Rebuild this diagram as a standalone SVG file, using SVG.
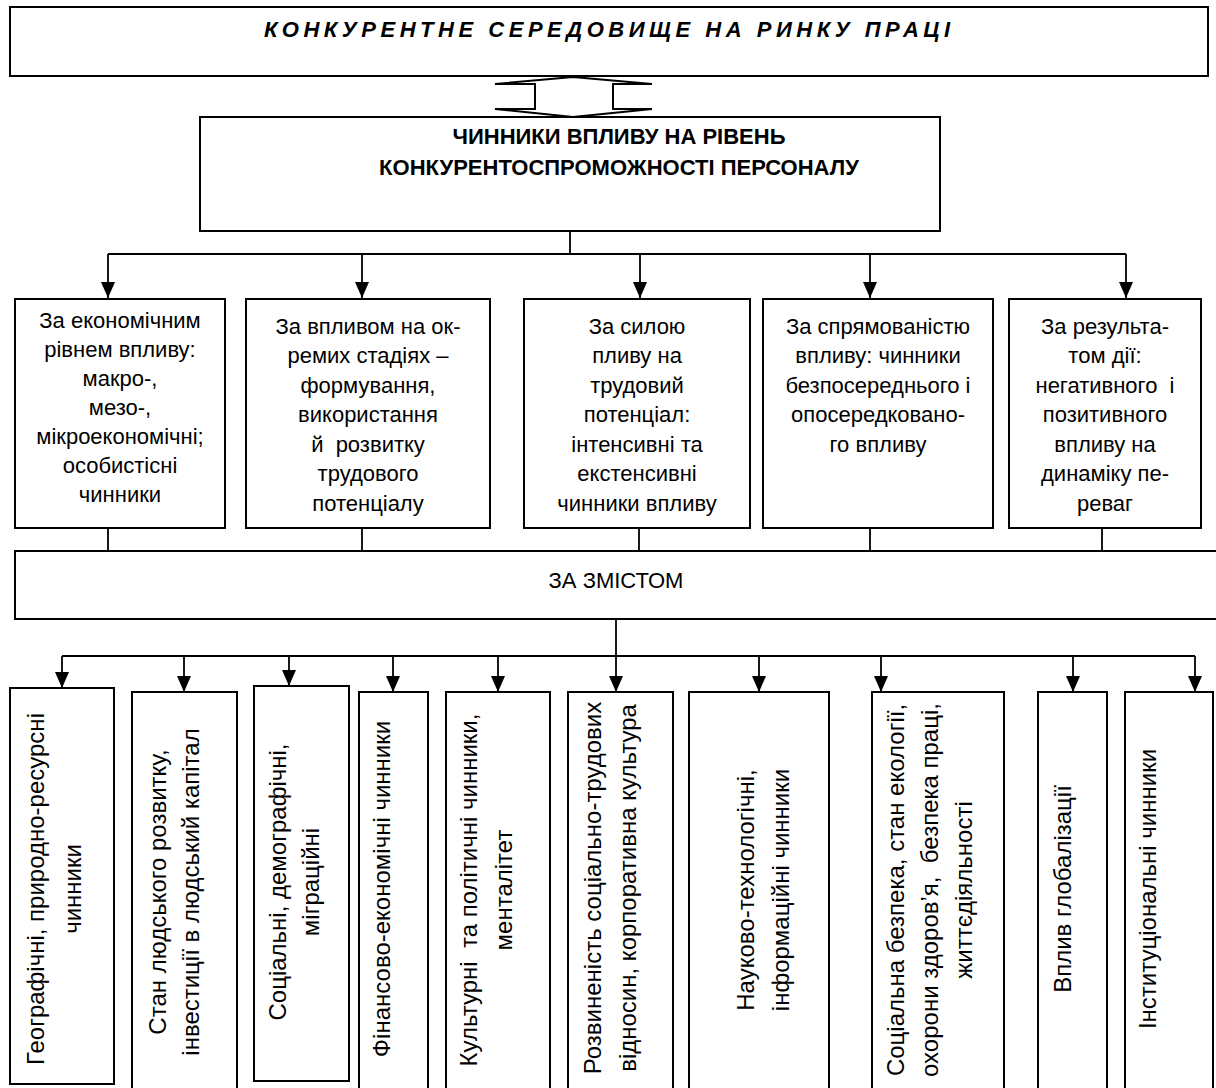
<svg xmlns="http://www.w3.org/2000/svg" width="1216" height="1088" viewBox="0 0 1216 1088">
<defs>
<style>
text{font-family:"Liberation Sans",Arial,sans-serif;fill:#000;white-space:pre}
.box{fill:#fff;stroke:#000;stroke-width:2}
.ln{fill:none;stroke:#000;stroke-width:1.8}
.arr{fill:none;stroke:#000;stroke-width:1.8;marker-end:url(#ah)}
.t5{font-size:22px;text-anchor:middle;dominant-baseline:central}
.tv{font-size:24px;text-anchor:middle;dominant-baseline:central}
.hd{font-size:22px;font-weight:bold;text-anchor:middle}
.ttl{font-family:"Liberation Sans Narrow","Liberation Sans",Arial,sans-serif;font-size:22px;font-weight:bold;font-style:italic;text-anchor:middle}
</style>
<marker id="ah" viewBox="0 0 16 14" markerWidth="16" markerHeight="14" refX="16" refY="7" orient="auto" markerUnits="userSpaceOnUse">
<path d="M0,0 L16,7 L0,14 z" fill="#000"/>
</marker>
</defs>
<rect width="1216" height="1088" fill="#fff"/>

<g id="connectors">
<polygon points="573,77 652,84 613,84 613,109 652,109 573,117 495,109 535,109 535,84 495,84" fill="#fff" stroke="#000" stroke-width="2"/>
<path class="ln" d="M570,231 V254 M108,254 H1126"/>
<path class="arr" d="M108,254 V298"/>
<path class="arr" d="M362,254 V298"/>
<path class="arr" d="M640,254 V298"/>
<path class="arr" d="M870,254 V298"/>
<path class="arr" d="M1126,254 V298"/>
<path class="ln" d="M108,528 V551 M362,528 V551 M639,528 V551 M870,528 V551 M1102,528 V551"/>
<path class="ln" d="M62,656 H1195"/>
<path class="arr" d="M616,619 V692"/>
<path class="arr" d="M62,656 V688"/>
<path class="arr" d="M184,656 V692"/>
<path class="arr" d="M289,656 V686"/>
<path class="arr" d="M393,656 V692"/>
<path class="arr" d="M498,656 V692"/>
<path class="arr" d="M759,656 V692"/>
<path class="arr" d="M881,656 V692"/>
<path class="arr" d="M1073,656 V692"/>
<path class="arr" d="M1195,656 V692"/>
</g>

<g id="top">
<rect class="box" x="10" y="7" width="1198" height="69"/>
<text class="ttl" x="607" y="37" textLength="686" lengthAdjust="spacing">КОНКУРЕНТНЕ СЕРЕДОВИЩЕ НА РИНКУ ПРАЦІ</text>
</g>

<g id="factors">
<rect class="box" x="200" y="117" width="740" height="114"/>
<text class="hd" x="619" y="144">ЧИННИКИ ВПЛИВУ НА РІВЕНЬ</text>
<text class="hd" x="619" y="175">КОНКУРЕНТОСПРОМОЖНОСТІ ПЕРСОНАЛУ</text>
</g>

<g id="b1">
<rect class="box" x="15" y="299" width="210" height="229"/>
<text class="t5" x="120" y="320">За економічним</text>
<text class="t5" x="120" y="349">рівнем впливу:</text>
<text class="t5" x="120" y="378">макро-,</text>
<text class="t5" x="120" y="407">мезо-,</text>
<text class="t5" x="120" y="436">мікроекономічні;</text>
<text class="t5" x="120" y="465">особистісні</text>
<text class="t5" x="120" y="494">чинники</text>
</g>
<g id="b2">
<rect class="box" x="246" y="299" width="244" height="229"/>
<text class="t5" x="368" y="326">За впливом на ок-</text>
<text class="t5" x="368" y="355.5">ремих стадіях –</text>
<text class="t5" x="368" y="385">формування,</text>
<text class="t5" x="368" y="414.5">використання</text>
<text class="t5" x="368" y="444">й  розвитку</text>
<text class="t5" x="368" y="473.5">трудового</text>
<text class="t5" x="368" y="503">потенціалу</text>
</g>
<g id="b3">
<rect class="box" x="524" y="299" width="226" height="229"/>
<text class="t5" x="637" y="326">За силою</text>
<text class="t5" x="637" y="355.5">пливу на</text>
<text class="t5" x="637" y="385">трудовий</text>
<text class="t5" x="637" y="414.5">потенціал:</text>
<text class="t5" x="637" y="444">інтенсивні та</text>
<text class="t5" x="637" y="473.5">екстенсивні</text>
<text class="t5" x="637" y="503">чинники впливу</text>
</g>
<g id="b4">
<rect class="box" x="763" y="299" width="230" height="229"/>
<text class="t5" x="878" y="326">За спрямованістю</text>
<text class="t5" x="878" y="355.5">впливу: чинники</text>
<text class="t5" x="878" y="385">безпосереднього і</text>
<text class="t5" x="878" y="414.5">опосередковано-</text>
<text class="t5" x="878" y="444">го впливу</text>
</g>
<g id="b5">
<rect class="box" x="1009" y="299" width="192" height="229"/>
<text class="t5" x="1105" y="326">За результа-</text>
<text class="t5" x="1105" y="355.5">том дії:</text>
<text class="t5" x="1105" y="385">негативного  і</text>
<text class="t5" x="1105" y="414.5">позитивного</text>
<text class="t5" x="1105" y="444">впливу на</text>
<text class="t5" x="1105" y="473.5">динаміку пе-</text>
<text class="t5" x="1105" y="503">реваг</text>
</g>

<g id="content">
<rect class="box" x="15" y="551" width="1212" height="68"/>
<text x="616" y="588" font-size="22" text-anchor="middle">ЗА ЗМІСТОМ</text>
</g>

<g id="c1">
<rect class="box" x="10" y="688" width="104" height="396"/>
<text class="tv" transform="translate(35,889) rotate(-90)">Географічні, природно-ресурсні</text>
<text class="tv" transform="translate(72,889) rotate(-90)">чинники</text>
</g>
<g id="c2">
<rect class="box" x="132" y="692" width="105" height="410"/>
<text class="tv" transform="translate(157,892) rotate(-90)">Стан людського розвитку,</text>
<text class="tv" transform="translate(190,892) rotate(-90)">інвестиції в людський капітал</text>
</g>
<g id="c3">
<rect class="box" x="254" y="686" width="95" height="395"/>
<text class="tv" transform="translate(277,882) rotate(-90)">Соціальні, демографічні,</text>
<text class="tv" transform="translate(310,882) rotate(-90)">міграційні</text>
</g>
<g id="c4">
<rect class="box" x="359" y="692" width="69" height="410"/>
<text class="tv" transform="translate(381,889) rotate(-90)">Фінансово-економічні чинники</text>
</g>
<g id="c5">
<rect class="box" x="446" y="692" width="104" height="410"/>
<text class="tv" transform="translate(468,890) rotate(-90)">Культурні  та політичні чинники,</text>
<text class="tv" transform="translate(503,890) rotate(-90)">менталітет</text>
</g>
<g id="c6">
<rect class="box" x="568" y="692" width="105" height="410"/>
<text class="tv" transform="translate(592,888) rotate(-90)">Розвиненість соціально-трудових</text>
<text class="tv" transform="translate(627,888) rotate(-90)">відносин, корпоративна культура</text>
</g>
<g id="c7">
<rect class="box" x="689" y="692" width="140" height="410"/>
<text class="tv" transform="translate(745,890) rotate(-90)">Науково-технологічні,</text>
<text class="tv" transform="translate(780,890) rotate(-90)">інформаційні чинники</text>
</g>
<g id="c8">
<rect class="box" x="872" y="692" width="132" height="410"/>
<text class="tv" transform="translate(895,890) rotate(-90)">Соціальна безпека, стан екології,</text>
<text class="tv" transform="translate(929,890) rotate(-90)">охорони здоров’я,  безпека праці,</text>
<text class="tv" transform="translate(963,890) rotate(-90)">життєдіяльності</text>
</g>
<g id="c9">
<rect class="box" x="1038" y="692" width="69" height="410"/>
<text class="tv" transform="translate(1062,889) rotate(-90)">Вплив глобалізації</text>
</g>
<g id="c10">
<rect class="box" x="1125" y="692" width="88" height="410"/>
<text class="tv" transform="translate(1147,889) rotate(-90)">Інституціональні чинники</text>
</g>
</svg>
